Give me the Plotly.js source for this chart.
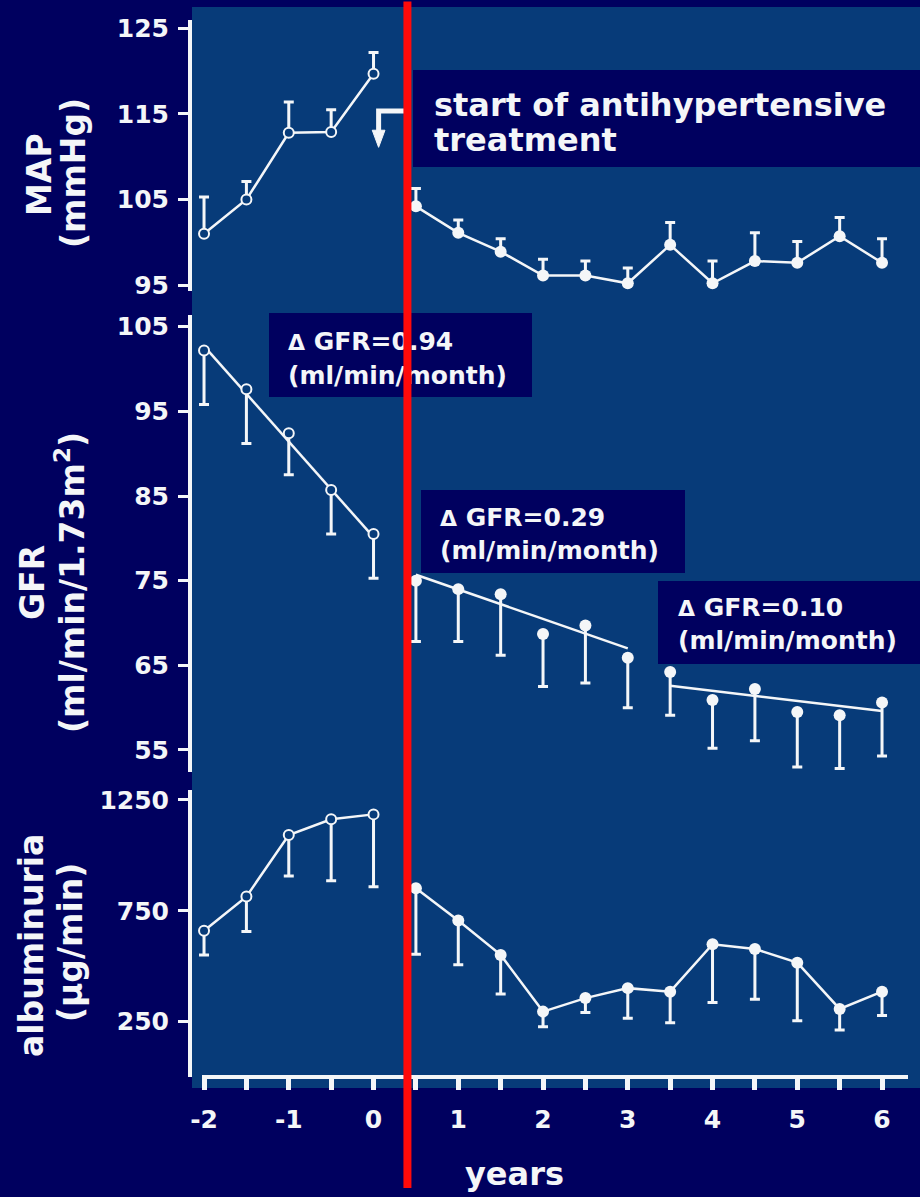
<!DOCTYPE html>
<html>
<head>
<meta charset="utf-8">
<script src="https://cdn.plot.ly/plotly-3.0.1.min.js"></script>
<style>
  html, body { margin: 0; padding: 0; background: #00005f; }
  #chart { width: 920px; height: 1197px; }
</style>
</head>
<body>
<div id="chart"></div>
<script>
// Follow-up in years relative to the last visit before treatment
const yearsPre = [-2, -1.5, -1, -0.5, 0];
const yearsPost = [0.5, 1, 1.5, 2, 2.5, 3, 3.5, 4, 4.5, 5, 5.5, 6];
const treatmentStart = 0.4;

// Mean arterial pressure (mmHg): means and upper ends of the error bars
const mapPre = [101.0, 105.0, 112.8, 112.9, 119.7];
const mapPreUpper = [105.3, 107.1, 116.4, 115.5, 122.2];
const mapPost = [104.2, 101.1, 98.9, 96.1, 96.1, 95.2, 99.7, 95.2, 97.8, 97.6, 100.7, 97.6];
const mapPostUpper = [106.3, 102.6, 100.4, 98.0, 97.8, 97.0, 102.3, 97.8, 101.1, 100.1, 102.9, 100.4];

// GFR (ml/min/1.73m2): means and lower ends of the error bars
const gfrPre = [102.2, 97.6, 92.4, 85.7, 80.5];
const gfrPreLower = [95.8, 91.2, 87.5, 80.5, 75.3];
const gfrPost = [75.0, 74.0, 73.4, 68.7, 69.7, 65.9, 64.2, 60.9, 62.2, 59.5, 59.1, 60.6];
const gfrPostLower = [67.8, 67.8, 66.2, 62.5, 62.9, 60.0, 59.1, 55.2, 56.1, 53.0, 52.8, 54.3];

// GFR decline per period (ml/min/month)
const slopeLabels = ['0.94', '0.29', '0.10'];
const slopeRates = [0.94, 0.29, 0.10];
const slopeFrom = [-2, 0.5, 3.5];
const slopeTo = [0, 3, 6];
const slopeStartGfr = [102.7, 75.7, 62.6];

// Albuminuria (µg/min): means and lower ends of the error bars
const albPre = [660, 814, 1092, 1163, 1185];
const albPreLower = [551, 656, 907, 885, 859];
const albPost = [852, 706, 551, 295, 356, 401, 385, 599, 578, 516, 307, 385];
const albPostLower = [554, 506, 375, 227, 291, 265, 245, 336, 351, 254, 212, 277];

// Tick labels
const xTickVals = [-2, -1, 0, 1, 2, 3, 4, 5, 6];
const xTickText = ['-2', '-1', '0', '1', '2', '3', '4', '5', '6'];
const xHalfYearTicks = [-1.5, -0.5, 0.5, 1.5, 2.5, 3.5, 4.5, 5.5];
const mapTicks = [95, 105, 115, 125];
const gfrTicks = [55, 65, 75, 85, 95, 105];
const albTicks = [250, 750, 1250];

// ---- styling ----
const FONT = 'DejaVu Sans';
const WHITE = '#f4f6f8';
const NAVY = '#00005f';
const PANEL = '#073b79';
const RED = '#ff0a0a';

// page geometry: plot area spans x 192..920, y 7..1088 (pixels)
const W = 920, H = 1197, PL = 192, PT = 7, PB = 1088;
const px = x => (x - PL) / (W - PL);
const py = y => (PB - y) / (PB - PT);

function series(x, y, ends, upward, yaxis, filled, connect) {
  const len = y.map((m, i) => Math.abs(ends[i] - m));
  const none = y.map(() => 0);
  return {
    type: 'scatter', x: x, y: y, yaxis: yaxis,
    mode: connect ? 'lines+markers' : 'markers',
    line: { color: WHITE, width: 2.5 },
    marker: filled
      ? { size: 12, color: WHITE }
      : { size: 10, color: PANEL, line: { color: WHITE, width: 2 } },
    error_y: {
      type: 'data', symmetric: false,
      array: upward ? len : none,
      arrayminus: upward ? none : len,
      color: WHITE, thickness: 3, width: 5
    },
    cliponaxis: false, hoverinfo: 'skip', showlegend: false
  };
}

const traces = [];

// GFR regression lines, drawn from the stated monthly decline
for (let i = 0; i < slopeRates.length; i++) {
  const months = (slopeTo[i] - slopeFrom[i]) * 12;
  traces.push({
    type: 'scatter', mode: 'lines', yaxis: 'y2',
    x: [slopeFrom[i], slopeTo[i]],
    y: [slopeStartGfr[i], slopeStartGfr[i] - slopeRates[i] * months],
    line: { color: WHITE, width: 2.5 },
    hoverinfo: 'skip', showlegend: false
  });
}

traces.push(series(yearsPre, mapPre, mapPreUpper, true, 'y', false, true));
traces.push(series(yearsPost, mapPost, mapPostUpper, true, 'y', true, true));
traces.push(series(yearsPre, gfrPre, gfrPreLower, false, 'y2', false, false));
traces.push(series(yearsPost, gfrPost, gfrPostLower, false, 'y2', true, false));
traces.push(series(yearsPre, albPre, albPreLower, false, 'y3', false, true));
traces.push(series(yearsPost, albPost, albPostLower, false, 'y3', true, true));

const tickFont = { family: FONT, size: 25, color: WHITE, weight: 'bold' };

function yAxis(domain, range, ticks) {
  return {
    domain: domain, range: range, anchor: 'x',
    showline: true, linecolor: WHITE, linewidth: 4,
    ticks: 'outside', tickvals: ticks, ticklen: 10, tickwidth: 3, tickcolor: WHITE,
    tickfont: tickFont, ticklabelstandoff: 4,
    showgrid: false, zeroline: false, fixedrange: true
  };
}

const box = (x0, y0, x1, y1) => ({
  type: 'rect', xref: 'paper', yref: 'paper', layer: 'above',
  x0: px(x0), x1: px(x1), y0: py(y1), y1: py(y0),
  fillcolor: NAVY, line: { width: 0 }
});

const shapes = [
  // blue panel behind all three plots
  { type: 'rect', xref: 'paper', yref: 'paper', layer: 'below',
    x0: 0, x1: 1, y0: 0, y1: 1, fillcolor: PANEL, line: { width: 0 } },
  // time axis line
  { type: 'line', xref: 'paper', yref: 'paper', layer: 'above',
    x0: px(202), x1: px(908), y0: py(1077), y1: py(1077),
    line: { color: WHITE, width: 4 } },
  box(413, 70, 920, 167),
  box(269, 313, 532, 397),
  box(421, 490, 685, 573),
  box(658, 581, 920, 664),
  // bent arrow from the treatment line down to the last untreated point
  { type: 'path', xref: 'x', yref: 'y', layer: 'above',
    path: 'M ' + treatmentStart + ',115.35 L 0.06,115.35 L 0.06,112.9',
    line: { color: WHITE, width: 5 } },
  { type: 'path', xref: 'x', yref: 'y', layer: 'above',
    path: 'M -0.015,113.1 L 0.135,113.1 L 0.06,111.1 Z',
    fillcolor: WHITE, line: { color: WHITE, width: 1 } }
];

const txt = (text, x, y, size, extra) => Object.assign({
  text: text, xref: 'paper', yref: 'paper', x: px(x), y: py(y),
  xanchor: 'left', yanchor: 'middle', showarrow: false,
  font: { family: FONT, size: size, color: WHITE, weight: 'bold' }
}, extra || {});

const rot = (text, x, y) => txt(text, x, y, 33, { xanchor: 'center', textangle: -90 });

const delta = s => '<span style="font-size:22px">Δ</span> GFR=' + s;

const annotations = [
  txt('start of antihypertensive', 432, 105, 32),
  txt('treatment', 432, 140, 32),
  txt(delta(slopeLabels[0]), 286, 341, 25),
  txt('(ml/min/month)', 286, 375, 25),
  txt(delta(slopeLabels[1]), 438, 517, 25),
  txt('(ml/min/month)', 438, 550, 25),
  txt(delta(slopeLabels[2]), 676, 607, 25),
  txt('(ml/min/month)', 676, 640, 25),
  rot('MAP', 39, 175),
  rot('(mmHg)', 74, 173),
  rot('GFR', 32, 583),
  rot('(ml/min/1.73m<sup>2</sup>)', 70, 583),
  rot('albuminuria', 31, 946),
  rot('(µg/min)', 70, 943),
  txt('years', 514, 1174, 32, { xanchor: 'center' }),
  // treatment start marker, kept on top of every label
  { xref: 'x', yref: 'paper', x: treatmentStart, y: py(1188),
    ax: 0, ay: -1188, text: '', showarrow: true, arrowhead: 0,
    arrowwidth: 8, arrowcolor: RED, standoff: 0 }
];

const layout = {
  width: W, height: H,
  margin: { l: PL, r: 0, t: PT, b: H - PB, pad: 0 },
  paper_bgcolor: NAVY, plot_bgcolor: 'rgba(0,0,0,0)',
  showlegend: false,
  font: { family: FONT, color: WHITE },
  xaxis: {
    range: [-2.142, 6.448], anchor: 'y3',
    showline: false, showgrid: false, zeroline: false,
    ticks: 'outside', tickvals: xTickVals, ticktext: xTickText,
    ticklen: 12, tickwidth: 5, tickcolor: WHITE,
    minor: { tickvals: xHalfYearTicks, ticks: 'outside', ticklen: 12, tickwidth: 5,
             tickcolor: WHITE, showgrid: false },
    tickfont: tickFont, ticklabelstandoff: 8, fixedrange: true
  },
  yaxis: yAxis([py(291), py(20)], [94.30, 125.99], mapTicks),
  yaxis2: yAxis([py(772), py(315)], [52.40, 106.38], gfrTicks),
  yaxis3: yAxis([py(1077), py(790)], [0, 1295], albTicks),
  shapes: shapes,
  annotations: annotations
};

Plotly.newPlot('chart', traces, layout, { displayModeBar: false, staticPlot: true });
</script>
</body>
</html>
